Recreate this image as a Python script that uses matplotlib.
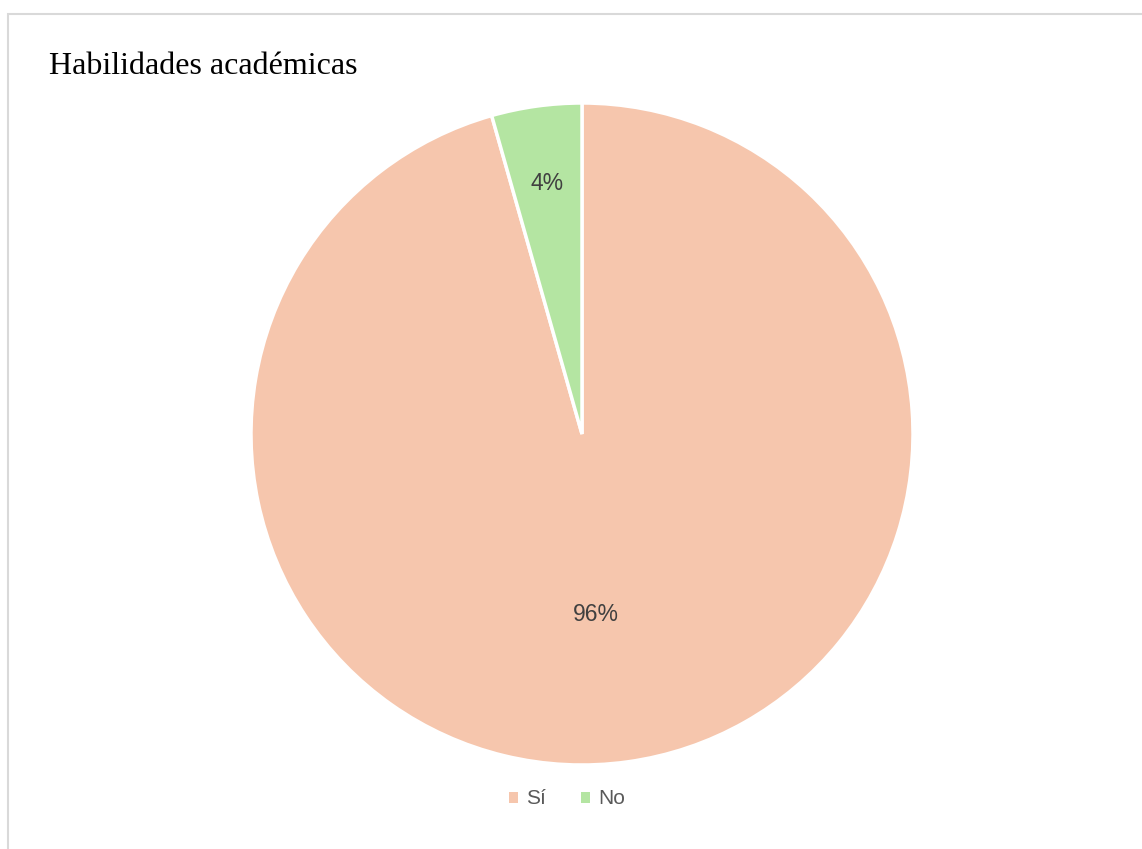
import numpy as np
import matplotlib.pyplot as plt
from matplotlib.patches import Rectangle

labels = ["Sí", "No"]
values = [95.6, 4.4]
colors = ["#F6C6AD", "#B4E5A2"]
label_dist = [0.55, 0.765]
label_shift = [-0.035, 0.0]

fig = plt.figure(figsize=(11.42, 8.49), dpi=100)
fig.patch.set_facecolor("white")

# chart frame
fig.add_artist(Rectangle((7.5 / 1142, -0.01), 1.02, 1 - 13.5 / 849 + 0.01,
                         transform=fig.transFigure, fill=False,
                         edgecolor="#D9D9D9", linewidth=1.5))

fig.text(49 / 1142, 1 - 67 / 849, "Habilidades académicas", family="Liberation Serif",
         fontsize=23, color="black", va="center", ha="left")

ax = fig.add_axes([251 / 1142, 84 / 849, 662 / 1142, 662 / 849])
wedges, _ = ax.pie(values, colors=colors, startangle=90, counterclock=False,
                   radius=1, wedgeprops=dict(edgecolor="white", linewidth=2.5))
ax.set_xlim(-1, 1)
ax.set_ylim(-1, 1)
ax.set_aspect("equal")
ax.axis("off")

total = sum(values)
for w, v, d, s in zip(wedges, values, label_dist, label_shift):
    mid = np.deg2rad((w.theta1 + w.theta2) / 2)
    ax.text(d * np.cos(mid) + s, d * np.sin(mid), f"{v / total * 100:.0f}%",
            ha="center", va="center", fontsize=16.5, color="#404040",
            family="Liberation Sans")

leg = fig.legend(wedges, labels, loc="center", bbox_to_anchor=(567 / 1142, 1 - 799 / 849),
                 ncol=2, frameon=False, handlelength=0.43, handleheight=0.43,
                 handletextpad=0.38, columnspacing=1.7,
                 prop={"family": "Liberation Sans", "size": 15})
for t in leg.get_texts():
    t.set_color("#595959")
for h in leg.legend_handles:
    h.set_edgecolor("none")

fig.savefig("out.png", dpi=100)
